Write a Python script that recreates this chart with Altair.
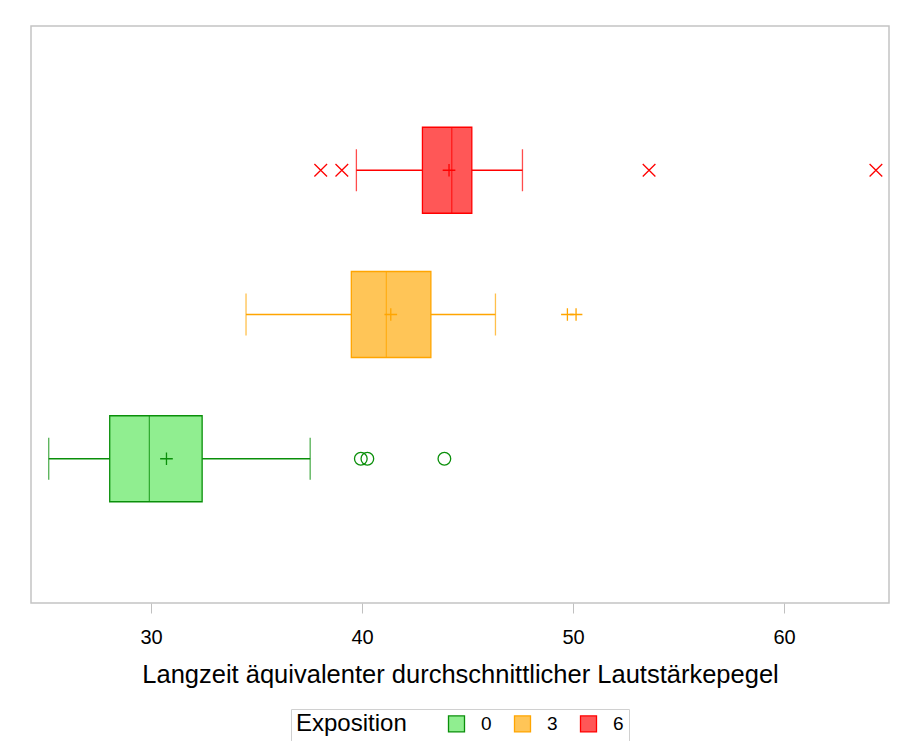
import altair as alt
import pandas as pd

groups = ["0", "3", "6"]
q1 = [28.04, 39.49, 42.86]
median = [29.92, 41.15, 44.25]
q3 = [32.42, 43.26, 45.20]
whisker_low = [25.15, 34.50, 39.73]
whisker_high = [37.54, 46.32, 47.60]
mean = [30.73, 41.36, 44.12]

outlier_group = ["0", "0", "0", "3", "3", "6", "6", "6", "6"]
outlier_value = [39.94, 40.25, 43.90, 49.73, 50.14, 38.04, 39.04, 53.60, 64.35]

fill_colors = ["#90EE90", "#FFC557", "#FF5757"]
stroke_colors = ["#0a8f0a", "#FFA500", "#FF0000"]

PLUS = "M-1,0L1,0M0,-1L0,1"
XSHAPE = "M-1,-1L1,1M-1,1L1,-1"
outlier_shapes = ["circle", PLUS, XSHAPE]

box = pd.DataFrame({
    "Exposition": groups, "grp": groups, "q1": q1, "median": median, "q3": q3,
    "lo": whisker_low, "hi": whisker_high, "mean": mean,
})
out = pd.DataFrame({"grp": outlier_group, "value": outlier_value})

FONT = "Liberation Sans"
SW = 1.3

xscale = alt.Scale(domain=[24.31, 64.97], nice=False, zero=False)
yscale = alt.Scale(domain=["6", "3", "0"], paddingInner=0, paddingOuter=0.5)
col = alt.Color("grp:N", legend=None,
                scale=alt.Scale(domain=groups, range=stroke_colors))


def yenc(field):
    return alt.Y(field + ":N", axis=None, scale=yscale)


xaxis = alt.Axis(values=[30, 40, 50, 60], grid=False, domain=False,
                 tickColor="#c0c0c0", tickSize=10, tickWidth=1,
                 labelFont=FONT, labelFontSize=20, labelColor="black",
                 labelPadding=14,
                 title="Langzeit äquivalenter durchschnittlicher Lautstärkepegel",
                 titleFont=FONT, titleFontSize=25.5, titleFontWeight="normal",
                 titleColor="black", titlePadding=15)

base = alt.Chart(box)

legend = alt.Legend(title="Exposition", orient="none", legendX=260, legendY=683,
                    direction="horizontal", titleOrient="left",
                    titleFont=FONT, titleFontSize=24, titleFontWeight="normal",
                    titleColor="black", titlePadding=40, titleBaseline="middle",
                    labelFont=FONT, labelFontSize=19, labelColor="black",
                    labelOffset=15, columnPadding=19,
                    symbolType="square", symbolSize=256, symbolStrokeWidth=SW,
                    strokeColor="#d0d0d0", padding=5, fillColor="white")

bars = base.mark_bar(size=86, strokeWidth=SW).encode(
    x=alt.X("q1:Q", scale=xscale, axis=xaxis),
    x2="q3:Q",
    y=yenc("Exposition"),
    fill=alt.Fill("Exposition:N", legend=legend,
                  scale=alt.Scale(domain=groups, range=fill_colors)),
    stroke=alt.Stroke("Exposition:N", legend=legend,
                      scale=alt.Scale(domain=groups, range=stroke_colors)),
)

wl = base.mark_rule(strokeWidth=SW).encode(x="lo:Q", x2="q1:Q", y=yenc("grp"), color=col)
wh = base.mark_rule(strokeWidth=SW).encode(x="q3:Q", x2="hi:Q", y=yenc("grp"), color=col)
cap_l = base.mark_tick(size=42, thickness=SW, orient="vertical").encode(
    x="lo:Q", y=yenc("grp"), color=col)
cap_h = base.mark_tick(size=42, thickness=SW, orient="vertical").encode(
    x="hi:Q", y=yenc("grp"), color=col)
med = base.mark_tick(size=86, thickness=SW, orient="vertical").encode(
    x="median:Q", y=yenc("grp"), color=col)
mn = base.mark_point(shape=PLUS, size=160, filled=False, strokeWidth=SW, opacity=1).encode(
    x="mean:Q", y=yenc("grp"), color=col)

outlier_layers = []
for g, shp in zip(groups, outlier_shapes):
    outlier_layers.append(
        alt.Chart(out).transform_filter(alt.datum.grp == g)
        .mark_point(shape=shp, size=160, filled=False, strokeWidth=SW, opacity=1)
        .encode(x="value:Q", y=yenc("grp"), color=col)
    )

chart = alt.layer(bars, wl, wh, cap_l, cap_h, med, mn, *outlier_layers).properties(
    width=858, height=577,
    autosize=alt.AutoSizeParams(type="none"),
    padding={"left": 23, "top": 18, "right": 1, "bottom": 138},
    background="white",
).configure_view(stroke="#c4c4c4", strokeWidth=1.5)

chart.save("out.html", embed_options={"renderer": "svg", "actions": False})
